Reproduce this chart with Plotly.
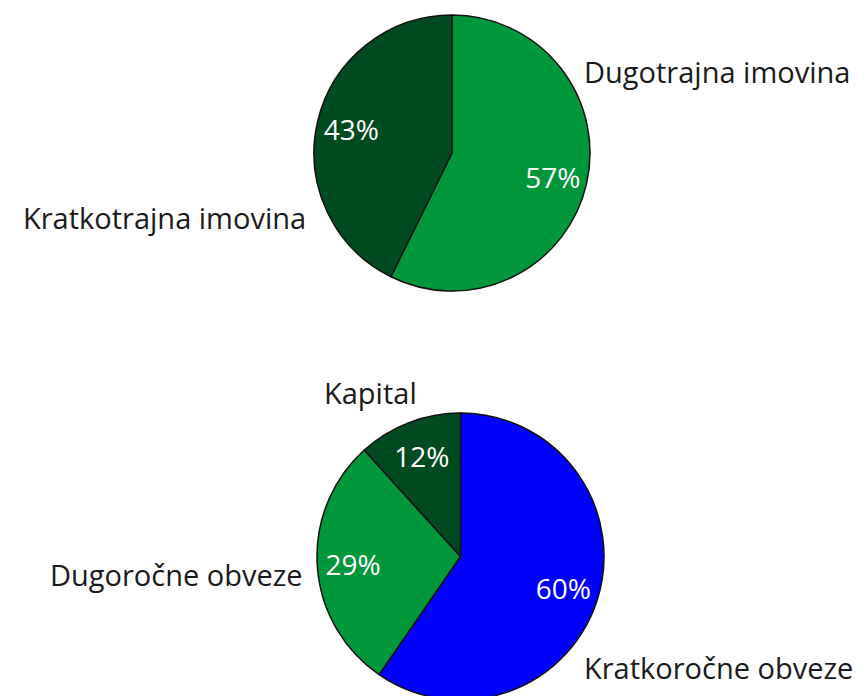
import plotly.graph_objects as go

W, H = 867, 696
OFF = 8  # page body margin offset

assets_labels = ["Dugotrajna imovina", "Kratkotrajna imovina"]
assets_values = [57.3, 42.7]
assets_colors = ["#00963a", "#004a20"]

liab_labels = ["Kratkoročne obveze", "Dugoročne obveze", "Kapital"]
liab_values = [59.6, 28.7, 11.7]
liab_colors = ["#0000ff", "#00963a", "#004a20"]

FONT = "Open Sans"
FS = 28
LFS = 29

def px_domain(cx, cy, r):
    cx -= OFF
    cy -= OFF
    return dict(x=[(cx - r) / W, (cx + r) / W], y=[1 - (cy + r) / H, 1 - (cy - r) / H])

fig = go.Figure()

def add_pie(labels, values, colors, dom):
    # visible pie with slice outlines
    fig.add_trace(go.Pie(
        labels=labels, values=values,
        marker=dict(colors=colors, line=dict(color="#111111", width=1.5)),
        sort=False, direction="clockwise", rotation=0,
        textinfo="none", domain=dom, showlegend=False,
        hoverinfo="label+percent",
    ))
    # transparent ring carrying the percentage labels
    fig.add_trace(go.Pie(
        labels=labels, values=values, hole=0.5,
        marker=dict(colors=["rgba(0,0,0,0)"] * len(values), line=dict(width=0)),
        sort=False, direction="clockwise", rotation=0,
        texttemplate="%{percent:.0%}", textposition="inside",
        insidetextorientation="horizontal",
        textfont=dict(family=FONT, size=FS, color="white"),
        domain=dom, showlegend=False, hoverinfo="skip",
    ))

add_pie(assets_labels, assets_values, assets_colors, px_domain(452, 153, 138))
add_pie(liab_labels, liab_values, liab_colors, px_domain(460.5, 556.5, 143.5))

ann = [
    (assets_labels[0], 582, 71, "left"),
    (assets_labels[1], 308, 217, "right"),
    (liab_labels[2], 370, 392, "center"),
    (liab_labels[1], 305, 574, "right"),
    (liab_labels[0], 582, 667, "left"),
]
for text, x, y, anchor in ann:
    fig.add_annotation(text=text, x=(x - OFF) / W, y=1 - (y - OFF) / H,
                       xref="paper", yref="paper",
                       xanchor=anchor, yanchor="middle", showarrow=False,
                       font=dict(family=FONT, size=LFS, color="#1a1a1a"))

fig.update_layout(width=W, height=H, margin=dict(l=0, r=0, t=0, b=0),
                  paper_bgcolor="white", plot_bgcolor="white")
fig.write_html("out.html")
